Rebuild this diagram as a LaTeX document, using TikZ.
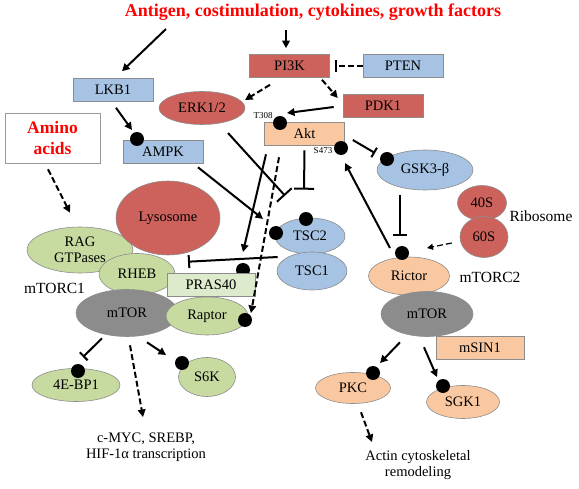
\documentclass[tikz,border=0pt]{standalone}
\usepackage{fontspec}
\setmainfont{Liberation Serif}
\usetikzlibrary{shapes.geometric,arrows.meta}
\definecolor{cred}{RGB}{205,98,92}
\definecolor{cblue}{RGB}{166,195,227}
\definecolor{cgreen}{RGB}{199,218,160}
\definecolor{clgreen}{RGB}{221,234,203}
\definecolor{corange}{RGB}{250,200,160}
\definecolor{cgray}{RGB}{140,140,140}

\begin{document}
\begin{tikzpicture}[x=1pt,y=-1pt,font=\fontsize{14.5}{16.5}\selectfont,
        box/.style={draw=black!45,line width=0.6pt,minimum width=80pt,minimum height=23pt,inner sep=0pt},
        oval/.style={ellipse,draw=black!45,line width=0.6pt,inner sep=0pt},
        dot/.style={circle,fill=black,minimum size=14pt,inner sep=0pt},
        arr/.style={line width=2pt,-{Triangle[length=7.5pt,width=7.5pt]}},
        inh/.style={line width=2pt,-{Bar[width=13pt]}},
        dsh/.style={dash pattern=on 6pt off 3pt}]
        \useasboundingbox (0,0) rectangle (579,489);
        \node[font=\fontsize{18}{20}\selectfont\bfseries,text=red] (title) at (313,12) {Antigen, costimulation, cytokines, growth factors};
        \node[box,fill=cred] (pik) at (289.5,66) {PI3K};
        \node[box,fill=cblue] (pten) at (403,66) {PTEN};
        \node[box,fill=cred] (pdk) at (383,105.5) {PDK1};
        \node[box,fill=corange] (akt) at (304.5,133.5) {Akt};
        \node[box,fill=cblue] (lkb) at (113,90) {LKB1};
        \node[box,fill=cblue] (ampk) at (163,151.5) {AMPK};
        \node[box,fill=white,draw=black!40,minimum width=95pt,minimum height=50pt,align=center,text=red,
          font=\fontsize{17.5}{21}\selectfont\bfseries] (amino) at (52.5,138) {Amino\\acids};
        \node[oval,fill=cred,minimum width=86pt,minimum height=33pt] (erk) at (202,108) {ERK1/2};
        \node[oval,fill=cgreen,minimum width=106pt,minimum height=46pt,align=center] (rag) at (80,250) {RAG\\GTPases};
        \node[oval,fill=cred,minimum width=104pt,minimum height=74pt] (lyso) at (168,218) {Lysosome};
        \node[oval,fill=cgreen,minimum width=76pt,minimum height=41pt] (rheb) at (137,274) {RHEB};
        \node[oval,fill=cgray,minimum width=102pt,minimum height=47pt] (mtorl) at (127,313) {mTOR};
        \node[oval,fill=cgreen,minimum width=82pt,minimum height=38pt] (raptor) at (207,316) {Raptor};
        \node[dot] (dpras) at (243,270) {};
        \node[box,fill=clgreen,minimum width=88pt] (pras) at (211,284.5) {PRAS40};
        \node[dot] (draptor) at (245,320) {};
        \node at (54.5,288) (mtorcone) {\fontsize{15.5}{18}\selectfont mTORC1};
        \node[oval,fill=cblue,minimum width=70pt,minimum height=36pt] (tsc2) at (310,236) {TSC2};
        \node[oval,fill=cblue,minimum width=70pt,minimum height=38pt] (tsc1) at (312,271) {TSC1};
        \node[dot] (dtsctop) at (306,219) {};
        \node[dot] (dtscleft) at (276,233) {};
        \node[oval,fill=cblue,minimum width=96pt,minimum height=40pt] (gsk) at (425,170) {GSK3-β};
        \node[oval,fill=cred,minimum width=49pt,minimum height=35pt] (sforty) at (482,203) {40S};
        \node[oval,fill=cred,minimum width=48pt,minimum height=41pt] (ssixty) at (484,237) {60S};
        \node at (541,216) (ribo) {\fontsize{15.5}{18}\selectfont Ribosome};
        \node[oval,fill=corange,minimum width=81pt,minimum height=38pt] (rictor) at (409,276) {Rictor};
        \node[oval,fill=cgray,minimum width=92pt,minimum height=45pt] (mtorr) at (427,314) {mTOR};
        \node[box,fill=corange,minimum width=88pt] (msin) at (480,347.5) {mSIN1};
        \node at (490,277) (mtorctwo) {\fontsize{15.5}{18}\selectfont mTORC2};
        \node[oval,fill=corange,minimum width=75pt,minimum height=31pt] (pkc) at (353,388) {PKC};
        \node[oval,fill=corange,minimum width=73pt,minimum height=33pt] (sgk) at (463,402) {SGK1};
        \node[oval,fill=cgreen,minimum width=88pt,minimum height=33pt] (ebp) at (76,385) {4E-BP1};
        \node[oval,fill=cgreen,minimum width=57pt,minimum height=39pt] (sixk) at (207,377) {S6K};
        \node[align=center] (myc) at (146,447) {c-MYC, SREBP,\\HIF-1α transcription};
        \node[align=center] (actin) at (418,465) {Actin cytoskeletal\\remodeling};
        \node[dot] (dthree) at (280,123) {};
        \node[dot] (dfour) at (341,148) {};
        \node[font=\fontsize{9}{10}\selectfont] (tthree) at (263,116) {T308};
        \node[font=\fontsize{9}{10}\selectfont] (tfour) at (323,151) {S473};
        \node[dot] (dampk) at (137,139) {};
        \node[dot] (dgsk) at (387,159) {};
        \node[dot] (drictor) at (402,253) {};
        \node[dot] (debp) at (78,371) {};
        \node[dot] (dsixk) at (182,363) {};
        \node[dot] (dpkc) at (373,373) {};
        \node[dot] (dsgk) at (443,386) {};
        \draw[arr] ([shift={(-147,17)}]title.center) -- ([shift={(9,-7)}]lkb.north);
        \draw[arr] ([shift={(-27,18)}]title.center) -- ([shift={(-3.5,-6)}]pik.north);
        \draw[inh,dsh,-{Bar[width=12pt]}] (pten.west) -- ([xshift=5pt]pik.east);
        \draw[arr,dsh] ([shift={(-19.5,7)}]pik.south) -- ([shift={(43,-8)}]erk.center);
        \draw[arr,dsh] ([shift={(32.5,2)}]pik.south) -- ([shift={(-5,-7.5)}]pdk.west);
        \draw[arr] ([shift={(-9,1.5)}]pdk.west) -- ([shift={(7,-10)}]dthree.center);
        \draw[arr] ([shift={(3,6)}]lkb.south) -- ([shift={(-5,-9)}]dampk.center);
        \draw[arr,dsh] ([shift={(-4.5,6)}]amino.south) -- ([shift={(-10,-14)}]rag.north);
        \draw[arr] ([shift={(35,4)}]ampk.south) -- ([shift={(-13,-14)}]dtscleft.center);
        \draw[inh,-{Bar[width=20pt]}] ([shift={(26,25)}]erk.center) -- ([shift={(-25,-22)}]tsc2.north);
        \draw[inh,-{Bar[width=20pt]}] ([shift={(0,5)}]akt.south) -- ([shift={(-6,-28)}]tsc2.north);
        \draw[arr] ([shift={(-38.5,9)}]akt.south) -- ([shift={(0,-18)}]dpras.center);
        \draw[arr,dsh] ([shift={(-25.5,12)}]akt.south) -- ([shift={(6,-7)}]draptor.center);
        \draw[inh] ([shift={(1,-14)}]tsc1.west) -- ([shift={(-23,-11)}]pras.north);
        \draw[inh,-{Bar[width=11pt]}] ([shift={(8,6.5)}]akt.east) -- ([shift={(-12,-6)}]dgsk.center);
        \draw[inh,-{Bar[width=14pt]}] ([shift={(-25,5)}]gsk.south) -- ([shift={(-2,-17)}]drictor.center);
        \draw[arr] ([shift={(-12,-5)}]drictor.center) -- ([shift={(4,15)}]dfour.center);
        \draw[line width=1.2pt,dsh,-{Triangle[length=6pt,width=6pt]}] ([shift={(-8,6)}]ssixty.west) -- ([shift={(25,-5)}]drictor.center);
        \draw[inh,-{Bar[width=11pt]}] ([shift={(-25,1.5)}]mtorl.south) -- ([shift={(5,-14)}]debp.center);
        \draw[arr] ([shift={(20,5.5)}]mtorl.south) -- ([shift={(-16,-8)}]dsixk.center);
        \draw[arr,dsh] ([shift={(3,8.5)}]mtorl.south) -- ([shift={(-3,-30)}]myc.center);
        \draw[arr] ([shift={(-27,5.5)}]mtorr.south) -- ([shift={(7,-10)}]dpkc.center);
        \draw[arr] ([shift={(-3,10.5)}]mtorr.south) -- ([shift={(-6,-9)}]dsgk.center);
        \draw[arr,dsh] ([shift={(8,8.5)}]pkc.south) -- ([shift={(-46,-23)}]actin.center);
\end{tikzpicture}
\end{document}
